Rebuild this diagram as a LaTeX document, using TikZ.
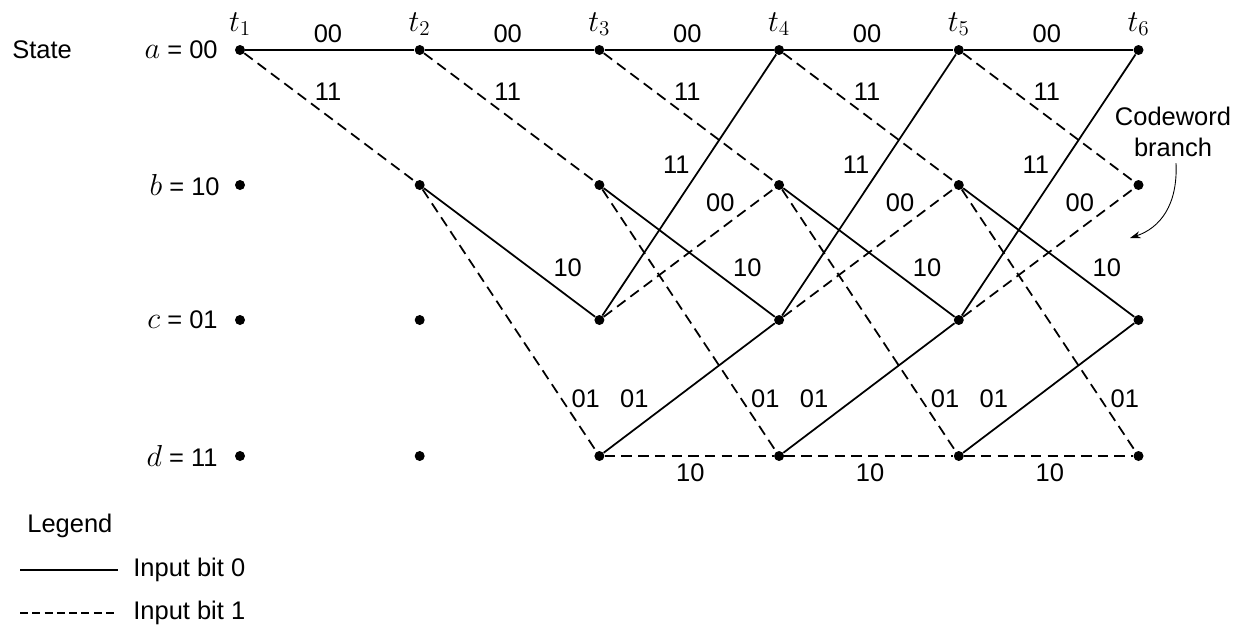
\documentclass[tikz,border=0pt]{standalone}
\usepackage{fontspec}
\setmainfont{Liberation Sans}
\usetikzlibrary{arrows.meta}
\newcommand{\trlvar}[1]{{\fontsize{17}{19}\selectfont$#1$}}
\begin{document}
\begin{tikzpicture}[x=0.02cm,y=-0.02cm,
  font=\fontsize{14.5}{17.5}\selectfont,
  dot/.style={circle,fill,inner sep=0pt,minimum size=0.2cm},
  zero/.style={line width=1pt},
  one/.style={line width=1pt,dash pattern=on 6pt off 3.5pt},
  lbl/.style={inner sep=0pt}]
\useasboundingbox (0,0) rectangle (1248,633);
% states
\node[lbl,anchor=west] (state) at (12,50) {State};
\node[lbl,anchor=east] (sa) at (218,50) {\trlvar{a} = 00};
\node[lbl,anchor=east] (sb) at (220,185) {\trlvar{b} = 10};
\node[lbl,anchor=east] (sc) at (218,320) {\trlvar{c} = 01};
\node[lbl,anchor=east] (sd) at (218,456) {\trlvar{d} = 11};
% dots and time labels
\foreach \i/\x in {1/240,2/419.7,3/599.4,4/779.1,5/958.8,6/1138.5} {
  \node[dot] (a\i) at (\x,50) {};
  \node[dot] (b\i) at (\x,185) {};
  \node[dot] (c\i) at (\x,320) {};
  \node[dot] (d\i) at (\x,456) {};
  \node[lbl] (t\i) at (\x,24) {\trlvar{t_{\i}}};
}
% transitions from a
\foreach \i/\x in {1/240,2/419.7,3/599.4,4/779.1,5/958.8} {
  \pgfmathtruncatemacro{\j}{\i+1}
  \draw[zero] (a\i) -- (a\j);
  \draw[one] (a\i) -- (b\j);
  \node[lbl] (laa\i) at ({\x+88},34) {00};
  \node[lbl] (lab\i) at ({\x+88},92) {11};
}
% transitions from b
\foreach \i/\x in {2/419.7,3/599.4,4/779.1,5/958.8} {
  \pgfmathtruncatemacro{\j}{\i+1}
  \draw[zero] (b\i) -- (c\j);
  \draw[one] (b\i) -- (d\j);
  \node[lbl] (lbc\i) at ({\x+148},268) {10};
  \node[lbl] (lbd\i) at ({\x+166},399) {01};
}
% transitions from c and d
\foreach \i/\x in {3/599.4,4/779.1,5/958.8} {
  \pgfmathtruncatemacro{\j}{\i+1}
  \draw[zero] (c\i) -- (a\j);
  \draw[one] (c\i) -- (b\j);
  \draw[zero] (d\i) -- (c\j);
  \draw[one] (d\i) -- (d\j);
  \node[lbl] (lca\i) at ({\x+77},165) {11};
  \node[lbl] (lcb\i) at ({\x+121},203) {00};
  \node[lbl] (ldc\i) at ({\x+35},399) {01};
  \node[lbl] (ldd\i) at ({\x+91},473) {10};
}
% codeword branch annotation
\node[lbl,align=center] (cw) at (1173,132) {Codeword\\branch};
\coordinate (cwend) at (1130,238);
\draw[line width=0.5pt,-{Stealth[length=6pt,width=4pt]}] (cw.south) ++(3,6) .. controls (1178,205) and (1160,228) .. (cwend);
% legend
\node[lbl,anchor=west] (legend) at (27,526) {Legend};
\coordinate (l0a) at (20,570);
\coordinate (l0b) at (118,570);
\coordinate (l1a) at (20,613);
\coordinate (l1b) at (118,613);
\draw[zero] (l0a) -- (l0b);
\draw[line width=1pt,dash pattern=on 4.5pt off 2.5pt] (l1a) -- (l1b);
\node[lbl,anchor=west] (in0) at (133,570) {Input bit 0};
\node[lbl,anchor=west] (in1) at (133,613) {Input bit 1};
\end{tikzpicture}
\end{document}
